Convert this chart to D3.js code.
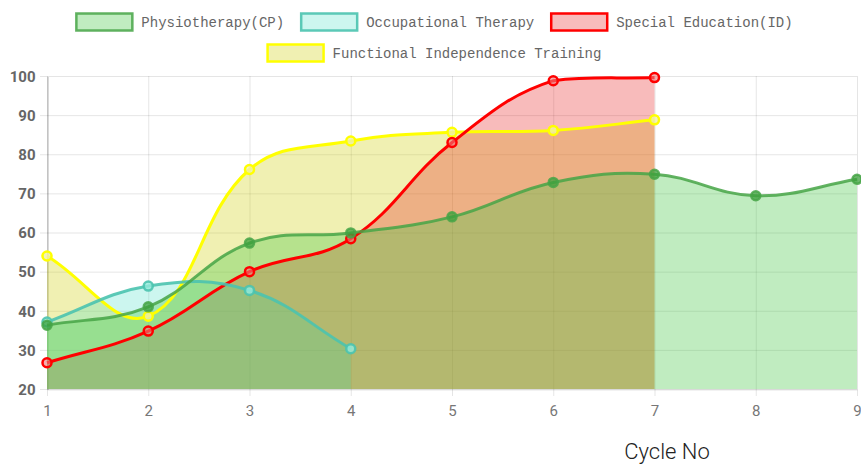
<!DOCTYPE html>
<html>
<head>
<meta charset="utf-8">
<script src="https://cdn.jsdelivr.net/npm/d3@7"></script>
<style>
	body { margin: 0; background: #fff; }
	svg { display: block; }
</style>
</head>
<body>
<div id="wrapper"></div>
<script>
const cycles = [1, 2, 3, 4, 5, 6, 7, 8, 9];
const yTicks = [20, 30, 40, 50, 60, 70, 80, 90, 100];

const physio = [36.3, 41, 57.3, 59.9, 64, 72.8, 74.9, 69.4, 73.6];
const occupational = [37.1, 46.3, 45.2, 30.3];
const specialEd = [26.7, 34.8, 50, 58.4, 83, 98.8, 99.6];
const functional = [54, 38.6, 76.1, 83.4, 85.6, 86.1, 88.8];

const seriesNames = [
	"Physiotherapy(CP)",
	"Occupational Therapy",
	"Special Education(ID)",
	"Functional Independence Training",
];

const drawChart = () => {
	const dimensions = {
		width: 861,
		height: 472,
		margins: { top: 76, right: 4, bottom: 83, left: 47 },
	};
	const left = dimensions.margins.left;
	const right = dimensions.width - dimensions.margins.right;
	const top = dimensions.margins.top;
	const bottom = dimensions.height - dimensions.margins.bottom;

	const datasets = [
		{ label: seriesNames[0], values: physio, fill: "rgba(70,200,70,0.34)", stroke: "rgba(70,165,70,0.85)", point: "rgba(60,160,60,0.75)" },
		{ label: seriesNames[1], values: occupational, fill: "rgba(72,222,198,0.28)", stroke: "rgba(75,195,175,0.9)", point: "rgba(150,235,220,0.8)" },
		{ label: seriesNames[2], values: specialEd, fill: "rgba(232,30,30,0.3)", stroke: "#ff0000", point: "rgba(240,120,120,0.6)" },
		{ label: seriesNames[3], values: functional, fill: "rgba(205,205,0,0.3)", stroke: "#ffff00", point: "rgba(240,240,170,0.8)" },
	];

	const svg = d3
		.select("#wrapper")
		.append("svg")
		.attr("width", dimensions.width)
		.attr("height", dimensions.height);

	const xScale = d3.scaleLinear().domain([1, 9]).range([left, right]);
	const yScale = d3.scaleLinear().domain([20, 100]).range([bottom, top]);

	// Chart.js style bezier (tension 0.4, control points capped to the plot area)
	function ChartSpline(context) {
		this._context = context;
	}
	ChartSpline.prototype = {
		areaStart() { this._line = 0; },
		areaEnd() { this._line = NaN; },
		lineStart() { this._pts = []; },
		point(x, y) { this._pts.push([+x, +y]); },
		lineEnd() {
			const p = this._pts;
			const n = p.length;
			const t = 0.4;
			const ctx = this._context;
			const cap = (v) => Math.max(top, Math.min(bottom, v));
			const ctrl = p.map((m, i) => {
				const f = p[i - 1] || m;
				const a = p[i + 1] || m;
				const d01 = Math.hypot(m[0] - f[0], m[1] - f[1]);
				const d12 = Math.hypot(a[0] - m[0], a[1] - m[1]);
				let s01 = d01 / (d01 + d12);
				let s12 = d12 / (d01 + d12);
				if (isNaN(s01)) s01 = 0;
				if (isNaN(s12)) s12 = 0;
				const fa = t * s01;
				const fb = t * s12;
				return {
					prev: [m[0] - fa * (a[0] - f[0]), cap(m[1] - fa * (a[1] - f[1]))],
					next: [m[0] + fb * (a[0] - f[0]), cap(m[1] + fb * (a[1] - f[1]))],
				};
			});
			p.forEach((pt, i) => {
				if (i === 0) {
					this._line ? ctx.lineTo(pt[0], pt[1]) : ctx.moveTo(pt[0], pt[1]);
				} else {
					const c1 = ctrl[i - 1].next;
					const c2 = ctrl[i].prev;
					ctx.bezierCurveTo(c1[0], c1[1], c2[0], c2[1], pt[0], pt[1]);
				}
			});
			if (this._line || (this._line !== 0 && n === 1)) ctx.closePath();
			this._line = 1 - this._line;
		},
	};
	const curveChart = (context) => new ChartSpline(context);

	// gridlines
	const grid = svg.append("g").attr("class", "grid");
	grid
		.selectAll("line.h")
		.data(yTicks)
		.join("line")
		.attr("x1", left - 7)
		.attr("x2", right)
		.attr("y1", (d) => yScale(d) + 0.5)
		.attr("y2", (d) => yScale(d) + 0.5)
		.attr("stroke", "rgba(0,0,0,0.1)");
	grid
		.selectAll("line.v")
		.data(cycles)
		.join("line")
		.attr("x1", (d) => xScale(d) + 0.5)
		.attr("x2", (d) => xScale(d) + 0.5)
		.attr("y1", top)
		.attr("y2", bottom + 7)
		.attr("stroke", "rgba(0,0,0,0.1)");

	const tickFont = "15px 'Liberation Sans Narrow', 'Roboto', sans-serif";

	// axes
	const yAxis = svg
		.append("g")
		.attr("transform", `translate(${left + 0.5}, 0.5)`)
		.call(d3.axisLeft(yScale).tickValues(yTicks).tickSize(0).tickPadding(12));
	yAxis.select(".domain").attr("stroke", "rgba(0,0,0,0.3)");
	yAxis
		.selectAll("text")
		.attr("fill", "#666")
		.style("font", "bold " + tickFont);

	const xAxis = svg
		.append("g")
		.attr("transform", `translate(0, ${bottom + 0.5})`)
		.call(d3.axisBottom(xScale).tickValues(cycles).tickFormat(d3.format("d")).tickSize(0).tickPadding(16));
	xAxis.select(".domain").attr("stroke", "rgba(0,0,0,0.1)");
	xAxis
		.selectAll("text")
		.attr("fill", "#777")
		.style("font", tickFont);

	const plot = svg.append("g");
	svg
		.append("clipPath")
		.attr("id", "clip")
		.append("rect")
		.attr("x", left - 6)
		.attr("y", top - 6)
		.attr("width", right - left + 12)
		.attr("height", bottom - top + 12);

	const toPoints = (values) => values.map((v, i) => ({ x: cycles[i], y: v }));

	const areaGenerator = d3
		.area()
		.x((d) => xScale(d.x))
		.y0(yScale(20))
		.y1((d) => yScale(d.y))
		.curve(curveChart);

	const lineGenerator = d3
		.line()
		.x((d) => xScale(d.x))
		.y((d) => yScale(d.y))
		.curve(curveChart);

	const reversed = datasets.slice().reverse();

	reversed.forEach((ds) => {
		plot
			.append("path")
			.attr("d", areaGenerator(toPoints(ds.values)))
			.attr("fill", ds.fill);
	});

	reversed.forEach((ds) => {
		const g = plot.append("g").attr("clip-path", "url(#clip)");
		g.append("path")
			.attr("d", lineGenerator(toPoints(ds.values)))
			.attr("fill", "none")
			.attr("stroke", ds.stroke)
			.attr("stroke-width", 3);
		g.selectAll("circle")
			.data(toPoints(ds.values))
			.join("circle")
			.attr("cx", (d) => xScale(d.x))
			.attr("cy", (d) => yScale(d.y))
			.attr("r", 4.5)
			.attr("fill", ds.point)
			.attr("stroke", ds.stroke)
			.attr("stroke-width", 2.5);
	});

	// legend, two centered rows
	const legendRows = [[0, 1, 2], [3]];
	const rowY = [22, 53];
	const boxW = 58;
	const boxH = 17;
	const gapText = 8;
	const gapItem = 16;
	const legend = svg.append("g").attr("class", "legend");
	const measure = legend
		.append("text")
		.style("font", "14px 'Liberation Mono', monospace");

	legendRows.forEach((row, r) => {
		const widths = row.map((i) => {
			measure.text(datasets[i].label);
			return boxW + gapText + measure.node().getComputedTextLength();
		});
		const total = d3.sum(widths) + gapItem * (row.length - 1);
		let x = 434 - total / 2;
		row.forEach((i, k) => {
			const ds = datasets[i];
			legend
				.append("rect")
				.attr("x", x + 1)
				.attr("y", rowY[r] - boxH / 2)
				.attr("width", boxW - 2)
				.attr("height", boxH)
				.attr("fill", ds.fill)
				.attr("stroke", ds.stroke)
				.attr("stroke-width", 2.5);
			legend
				.append("text")
				.attr("x", x + boxW + gapText)
				.attr("y", rowY[r])
				.attr("dy", "0.35em")
				.attr("fill", "#666")
				.style("font", "14px 'Liberation Mono', monospace")
				.text(ds.label);
			x += widths[k] + gapItem;
		});
	});
	measure.remove();

	svg
		.append("text")
		.attr("x", 667)
		.attr("y", 459)
		.attr("text-anchor", "middle")
		.attr("fill", "#222")
		.style("font", "300 22px Roboto, sans-serif")
		.text("Cycle No");
};

drawChart();
</script>
</body>
</html>
